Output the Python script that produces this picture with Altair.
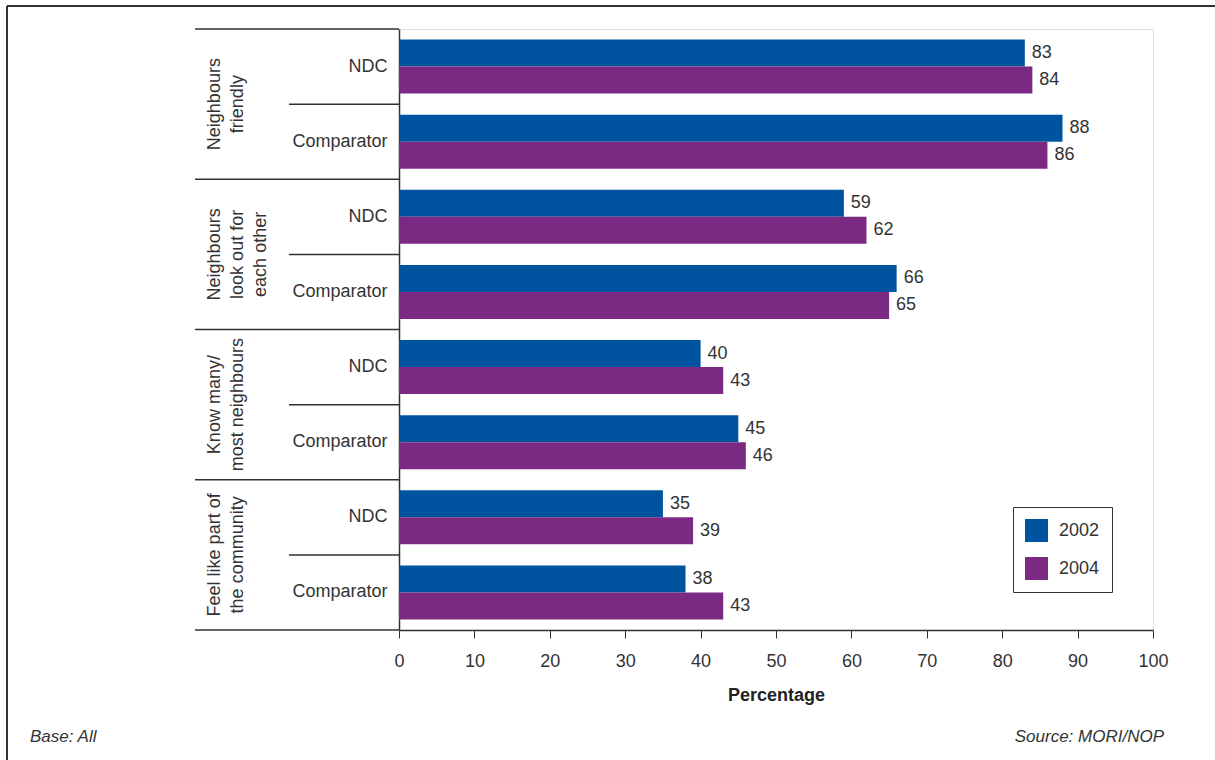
import altair as alt
import pandas as pd

groups = ["Neighbours\nfriendly", "Neighbours\nlook out for\neach other",
          "Know many/\nmost neighbours", "Feel like part of\nthe community"]
subs = ["NDC", "Comparator"]
years = ["2002", "2004"]
vals_2002 = [83, 88, 59, 66, 40, 45, 35, 38]
vals_2004 = [84, 86, 62, 65, 43, 46, 39, 43]
colors = ["#00539F", "#7B2A84"]

FONT = "Liberation Sans"
TXT = "#333333"

keys = [f"{gi}|{s}" for gi in range(len(groups)) for s in subs]

rows = []
for i, k in enumerate(keys):
    rows.append({"key": k, "year": "2002", "value": vals_2002[i]})
    rows.append({"key": k, "year": "2004", "value": vals_2004[i]})
df = pd.DataFrame(rows)

W, H = 754, 601
PL, PT = 399, 29

yenc = alt.Y("key:N", scale=alt.Scale(domain=keys, paddingInner=0, paddingOuter=0),
             axis=alt.Axis(title=None, ticks=False, grid=False, domain=True, domainColor=TXT,
                           domainWidth=1.5,
                           labelExpr="split(datum.label, '|')[1]", labelFontSize=18,
                           labelColor=TXT, labelFont=FONT, labelPadding=12))
yoff = alt.YOffset("year:N", scale=alt.Scale(paddingInner=0, paddingOuter=0.39))
xenc = alt.X("value:Q", scale=alt.Scale(domain=[0, 100], nice=False),
             axis=alt.Axis(title="Percentage", values=list(range(0, 101, 10)), grid=False,
                           tickSize=8, tickColor=TXT, domainColor=TXT, domainWidth=1.5,
                           labelFlush=False,
                           labelFontSize=18, labelColor=TXT, labelFont=FONT, labelPadding=14,
                           titleFontSize=18, titleFont=FONT, titleFontWeight="bold",
                           titleColor="#222222", titlePadding=16))

base = alt.Chart(df)
bars = base.mark_bar().encode(
    y=yenc, yOffset=yoff, x=xenc,
    color=alt.Color("year:N", scale=alt.Scale(domain=years, range=colors),
                    legend=alt.Legend(title=None, orient="none", legendX=614, legendY=478,
                                      strokeColor=TXT, padding=12, symbolType="square",
                                      symbolSize=529, symbolStrokeWidth=0, symbolOpacity=1,
                                      labelFontSize=18, labelFont=FONT, labelColor=TXT,
                                      labelOffset=11, rowPadding=15, fillColor="white")),
)
labels = base.mark_text(align="left", baseline="middle", dx=7, fontSize=18, font=FONT,
                        color=TXT).encode(
    y=alt.Y("key:N"), yOffset=yoff, x="value:Q", text="value:Q")

top_df = pd.DataFrame({"key": [f"{gi}|NDC" for gi in range(len(groups))]})
mid_df = pd.DataFrame({"key": [f"{gi}|Comparator" for gi in range(len(groups))],
                       "label": groups})
grp_rules = alt.Chart(top_df).mark_rule(color=TXT, strokeWidth=1.5).encode(
    y=alt.Y("key:N", bandPosition=0), x=alt.value(-204), x2=alt.value(0))
sub_rules = alt.Chart(mid_df).mark_rule(color=TXT, strokeWidth=1.5).encode(
    y=alt.Y("key:N", bandPosition=0), x=alt.value(-110), x2=alt.value(0))
bottom_rule = alt.Chart(mid_df.tail(1)).mark_rule(color=TXT, strokeWidth=1.5).encode(
    y=alt.Y("key:N", bandPosition=1), x=alt.value(-204), x2=alt.value(0))
grp_text = alt.Chart(mid_df).mark_text(angle=270, align="center", baseline="top",
                                       lineBreak="\n", lineHeight=23, fontSize=18,
                                       font=FONT, color=TXT).encode(
    y=alt.Y("key:N", bandPosition=0), x=alt.value(-193), text="label:N")

frame_top = alt.Chart(pd.DataFrame({"a": [0]})).mark_rule(color=TXT, strokeWidth=2).encode(
    x=alt.value(-392), x2=alt.value(1215 - PL + 5), y=alt.value(-23))
frame_left = alt.Chart(pd.DataFrame({"a": [0]})).mark_rule(color=TXT, strokeWidth=2).encode(
    x=alt.value(-392), y=alt.value(-23), y2=alt.value(760 - PT + 5))

foot_l = alt.Chart(pd.DataFrame({"t": ["Base: All"]})).mark_text(
    align="left", baseline="middle", fontSize=17, font=FONT, fontStyle="italic",
    color=TXT).encode(text="t:N", x=alt.value(30 - PL), y=alt.value(737 - PT))
foot_r = alt.Chart(pd.DataFrame({"t": ["Source: MORI/NOP"]})).mark_text(
    align="right", baseline="middle", fontSize=17, font=FONT, fontStyle="italic",
    color=TXT).encode(text="t:N", x=alt.value(1164 - PL), y=alt.value(737 - PT))

chart = alt.layer(bars, labels, grp_rules, sub_rules, bottom_rule, grp_text,
                  frame_top, frame_left, foot_l, foot_r).properties(
    width=W, height=H,
    autosize=alt.AutoSizeParams(type="none"),
    padding={"left": PL, "top": PT, "right": 1215 - PL - W, "bottom": 760 - PT - H},
).configure_view(stroke=TXT, strokeWidth=1.5).configure(background="white")

chart.save("out.html", embed_options={"renderer": "svg", "actions": False})
